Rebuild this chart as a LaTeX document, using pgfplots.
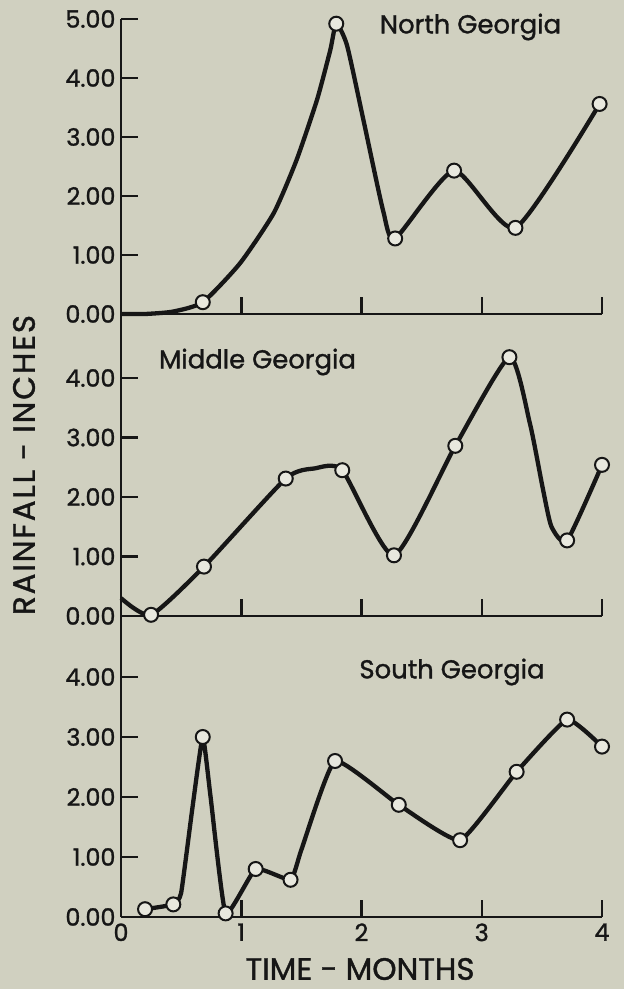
\documentclass[border=0pt]{standalone}
\usepackage{pgfplots}
\pgfplotsset{compat=1.18}
\usepackage{fontspec}
\setmainfont{Poppins}[BoldFont=Poppins, BoldFeatures={FakeBold=1.2}]
\definecolor{bg}{RGB}{208,208,192}
\definecolor{mk}{RGB}{232,232,222}
\definecolor{ink}{RGB}{22,22,22}
\pgfplotsset{
  panel/.style={
    x=120.25bp, xmin=0, xmax=4, ymin=0,
    axis lines*=left,
    axis line style={ink, line width=2.8bp},
    tick align=inside, major tick length=17bp,
    major tick style={ink, line width=2.5bp},
    clip=false, anchor=south west,
    xtick={0,1,2,3,4}, xticklabels={},
    ytick={0,1,2,3,4},
    /pgf/number format/fixed,
    /pgf/number format/fixed zerofill,
    /pgf/number format/precision=2,
    /pgf/number format/assume math mode=true,
    yticklabel style={font=\fontsize{24}{26}\selectfont\bfseries, text=ink, xshift=-2bp},
    xticklabel style={font=\fontsize{24}{26}\selectfont\bfseries, text=ink, yshift=-3bp},
  },
  curve/.style={ink, line width=4.3bp, smooth, tension=0.35, no markers, line join=round},
  pts/.style={only marks, mark=*, mark size=7bp,
    mark options={fill=mk, draw=ink, line width=2bp}},
}
\begin{document}
\begin{tikzpicture}
\useasboundingbox (0,0) rectangle (624bp,989bp);
\fill[bg] (0,0) rectangle (624bp,989bp);
% North Georgia
\begin{axis}[panel, at={(121bp,675bp)}, y=59bp, ymax=5, ytick={0,1,2,3,4,5}]
\addplot[curve] coordinates {(0,0) (0.2,0.0) (0.43,0.04) (0.68,0.2) (0.99,0.86) (1.27,1.71) (1.46,2.61) (1.63,3.63) (1.74,4.47) (1.79,4.92) (1.88,4.55) (2.02,3.25) (2.18,1.75) (2.28,1.28) (2.77,2.43) (3.28,1.46) (3.98,3.56)};
\addplot[pts] coordinates {(0.68,0.2) (1.79,4.92) (2.28,1.28) (2.77,2.43) (3.28,1.46) (3.98,3.56)};
\end{axis}
% Middle Georgia
\begin{axis}[panel, at={(121bp,373bp)}, y=59.5bp, ymax=5.08]
\addplot[curve] coordinates {(0,0.3) (0.25,0.02) (0.69,0.83) (1.37,2.31) (1.61,2.48) (1.84,2.45) (2.27,1.02) (2.78,2.86) (3.23,4.35) (3.4,3.24) (3.51,2.12) (3.58,1.5) (3.71,1.27) (4.0,2.54)};
\addplot[pts] coordinates {(0.25,0.02) (0.69,0.83) (1.37,2.31) (1.84,2.45) (2.27,1.02) (2.78,2.86) (3.23,4.35) (3.71,1.27) (4.0,2.54)};
\end{axis}
% South Georgia
\begin{axis}[panel, at={(121bp,72bp)}, y=60bp, ymax=5.02, xticklabels={0,1,2,3,4}]
\addplot[curve, tension=0.25] coordinates {(0.2,0.13) (0.435,0.21) (0.5,0.4) (0.596,1.85) (0.68,3.0) (0.745,2.0) (0.87,0.06) (1.12,0.8) (1.41,0.62) (1.5,1.12) (1.78,2.6) (2.31,1.87) (2.82,1.28) (3.29,2.42) (3.71,3.29) (4.0,2.84)};
\addplot[pts] coordinates {(0.2,0.13) (0.435,0.21) (0.68,3.0) (0.87,0.06) (1.12,0.8) (1.41,0.62) (1.78,2.6) (2.31,1.87) (2.82,1.28) (3.29,2.42) (3.71,3.29) (4.0,2.84)};
\end{axis}
\node[text=ink, font=\fontsize{26}{28}\selectfont\bfseries] at (470.5bp,962bp) {North Georgia};
\node[text=ink, font=\fontsize{26}{28}\selectfont\bfseries] at (257.5bp,627bp) {Middle Georgia};
\node[text=ink, font=\fontsize{26}{28}\selectfont\bfseries] at (452bp,317bp) {South Georgia};
\node[text=ink, font=\fontsize{31}{33}\selectfont\bfseries\addfontfeature{LetterSpace=6}, rotate=90] at (24bp,524bp) {RAINFALL - INCHES};
\node[text=ink, font=\fontsize{31}{33}\selectfont\bfseries] at (360bp,20bp) {TIME - MONTHS};
\end{tikzpicture}
\end{document}
